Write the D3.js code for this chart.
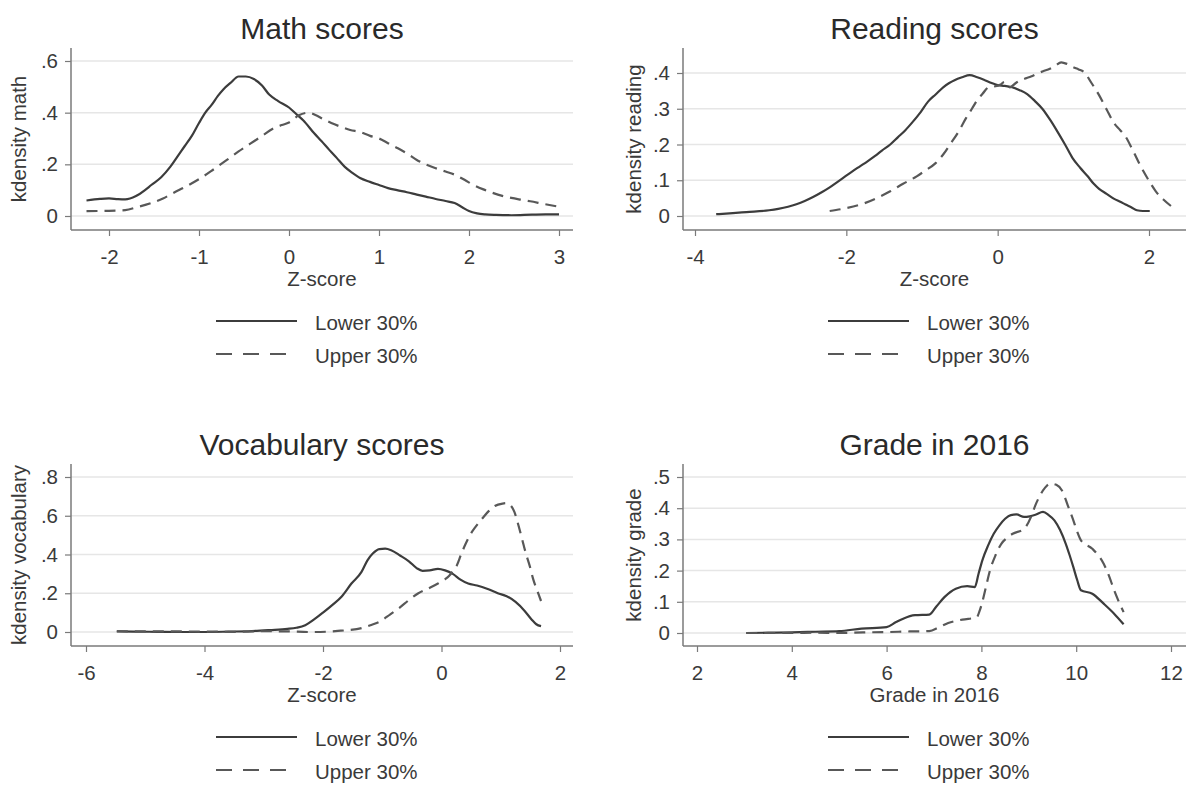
<!DOCTYPE html>
<html>
<head>
<meta charset="utf-8">
<script src="https://cdn.jsdelivr.net/npm/d3@7"></script>
<style>
  html, body { margin: 0; padding: 0; background: #fff; }
  svg { display: block; }
  text { font-family: "Liberation Sans", Arial, sans-serif; }
</style>
</head>
<body>
<svg id="chart" width="1190" height="785"></svg>
<script>
// ---------------- DATA ----------------
const panelTitles = ["Math scores", "Reading scores", "Vocabulary scores", "Grade in 2016"];
const xTitles = ["Z-score", "Z-score", "Z-score", "Grade in 2016"];
const yTitles = ["kdensity math", "kdensity reading", "kdensity vocabulary", "kdensity grade"];
const seriesNames = ["Lower 30%", "Upper 30%"];

const mathXTicks = [-2, -1, 0, 1, 2, 3];
const mathYTicks = [0, 0.2, 0.4, 0.6];
const readXTicks = [-4, -2, 0, 2];
const readYTicks = [0, 0.1, 0.2, 0.3, 0.4];
const vocabXTicks = [-6, -4, -2, 0, 2];
const vocabYTicks = [0, 0.2, 0.4, 0.6, 0.8];
const gradeXTicks = [2, 4, 6, 8, 10, 12];
const gradeYTicks = [0, 0.1, 0.2, 0.3, 0.4, 0.5];

const mathLower = [[-2.25,0.06],[-2.1,0.066],[-2.0,0.068],[-1.9,0.065],[-1.82,0.064],[-1.7,0.077],[-1.6,0.1],[-1.53,0.12],[-1.42,0.15],[-1.32,0.19],[-1.24,0.23],[-1.16,0.27],[-1.08,0.31],[-1.0,0.36],[-0.93,0.4],[-0.86,0.43],[-0.79,0.465],[-0.73,0.49],[-0.65,0.515],[-0.56,0.54],[-0.48,0.54],[-0.39,0.53],[-0.3,0.505],[-0.22,0.47],[-0.12,0.445],[0,0.42],[0.08,0.395],[0.16,0.37],[0.28,0.32],[0.36,0.29],[0.45,0.255],[0.53,0.225],[0.62,0.19],[0.7,0.168],[0.79,0.147],[0.9,0.132],[1.0,0.12],[1.1,0.108],[1.2,0.1],[1.31,0.092],[1.42,0.083],[1.52,0.075],[1.63,0.066],[1.74,0.058],[1.84,0.05],[1.92,0.035],[2.0,0.019],[2.09,0.01],[2.18,0.006],[2.3,0.004],[2.47,0.003],[2.7,0.005],[2.85,0.006],[3.0,0.006]];
const mathUpper = [[-2.25,0.019],[-2.0,0.02],[-1.82,0.023],[-1.68,0.035],[-1.53,0.05],[-1.4,0.068],[-1.28,0.09],[-1.13,0.117],[-0.98,0.147],[-0.84,0.18],[-0.69,0.217],[-0.56,0.25],[-0.43,0.28],[-0.3,0.31],[-0.18,0.338],[-0.08,0.352],[0,0.362],[0.11,0.39],[0.22,0.4],[0.3,0.39],[0.37,0.377],[0.47,0.36],[0.58,0.345],[0.68,0.333],[0.79,0.325],[0.9,0.31],[1.0,0.3],[1.1,0.282],[1.21,0.262],[1.32,0.24],[1.42,0.217],[1.52,0.2],[1.63,0.185],[1.74,0.172],[1.84,0.16],[1.95,0.14],[2.05,0.12],[2.16,0.103],[2.26,0.09],[2.37,0.078],[2.47,0.07],[2.58,0.063],[2.68,0.057],[2.84,0.046],[3.0,0.036]];

const readLower = [[-3.72,0.005],[-3.5,0.008],[-3.32,0.011],[-3.02,0.016],[-2.9,0.02],[-2.77,0.026],[-2.66,0.033],[-2.55,0.042],[-2.44,0.053],[-2.32,0.067],[-2.22,0.08],[-2.12,0.095],[-2.02,0.11],[-1.92,0.125],[-1.82,0.139],[-1.72,0.153],[-1.62,0.168],[-1.53,0.183],[-1.42,0.2],[-1.32,0.22],[-1.22,0.24],[-1.12,0.264],[-1.02,0.29],[-0.92,0.32],[-0.82,0.34],[-0.72,0.36],[-0.64,0.372],[-0.57,0.38],[-0.47,0.388],[-0.37,0.394],[-0.27,0.388],[-0.17,0.38],[-0.08,0.372],[0,0.366],[0.09,0.364],[0.19,0.36],[0.29,0.352],[0.39,0.341],[0.49,0.322],[0.59,0.3],[0.69,0.27],[0.79,0.236],[0.89,0.2],[0.99,0.162],[1.09,0.135],[1.19,0.111],[1.27,0.09],[1.34,0.076],[1.44,0.062],[1.54,0.048],[1.62,0.04],[1.69,0.032],[1.77,0.024],[1.84,0.016],[1.92,0.014],[2.01,0.014]];
const readUpper = [[-2.22,0.014],[-2.0,0.022],[-1.77,0.035],[-1.6,0.05],[-1.42,0.069],[-1.25,0.09],[-1.07,0.111],[-0.95,0.128],[-0.82,0.148],[-0.72,0.172],[-0.62,0.203],[-0.52,0.235],[-0.42,0.273],[-0.34,0.3],[-0.27,0.324],[-0.2,0.342],[-0.12,0.36],[-0.05,0.362],[0.04,0.368],[0.09,0.375],[0.16,0.36],[0.24,0.372],[0.29,0.378],[0.37,0.385],[0.44,0.39],[0.52,0.398],[0.6,0.405],[0.69,0.412],[0.76,0.42],[0.84,0.43],[0.92,0.425],[0.99,0.417],[1.07,0.41],[1.14,0.403],[1.24,0.372],[1.34,0.338],[1.44,0.298],[1.54,0.259],[1.62,0.24],[1.69,0.222],[1.79,0.182],[1.89,0.139],[1.99,0.102],[2.09,0.069],[2.19,0.046],[2.29,0.028]];

const vocabLower = [[-5.48,0.003],[-5.2,0.002],[-4.8,0.001],[-4.4,0.0],[-4.0,0.0],[-3.6,0.002],[-3.2,0.005],[-2.9,0.01],[-2.6,0.016],[-2.45,0.022],[-2.3,0.035],[-2.15,0.065],[-2.0,0.1],[-1.84,0.14],[-1.68,0.185],[-1.52,0.25],[-1.35,0.31],[-1.25,0.37],[-1.16,0.405],[-1.05,0.428],[-0.95,0.43],[-0.85,0.422],[-0.7,0.395],[-0.55,0.365],[-0.42,0.33],[-0.32,0.316],[-0.2,0.318],[-0.06,0.326],[0.06,0.318],[0.19,0.3],[0.32,0.27],[0.45,0.25],[0.6,0.24],[0.78,0.222],[0.95,0.2],[1.1,0.185],[1.25,0.155],[1.4,0.11],[1.52,0.065],[1.6,0.04],[1.68,0.03]];
const vocabUpper = [[-5.48,0.004],[-5.0,0.003],[-4.5,0.003],[-4.0,0.002],[-3.5,0.001],[-3.0,0.004],[-2.6,0.003],[-2.2,0.0],[-1.9,0.002],[-1.65,0.008],[-1.35,0.02],[-1.2,0.035],[-1.03,0.056],[-0.87,0.09],[-0.71,0.125],[-0.55,0.165],[-0.39,0.2],[-0.22,0.225],[-0.06,0.25],[0.05,0.27],[0.13,0.29],[0.2,0.318],[0.26,0.345],[0.33,0.4],[0.4,0.45],[0.5,0.51],[0.58,0.545],[0.7,0.59],[0.8,0.625],[0.9,0.65],[1.03,0.663],[1.1,0.665],[1.16,0.655],[1.23,0.62],[1.29,0.56],[1.36,0.48],[1.42,0.41],[1.49,0.34],[1.55,0.27],[1.62,0.21],[1.68,0.16]];

const gradeLower = [[3.04,0.0],[3.5,0.001],[4.0,0.002],[4.5,0.004],[5.0,0.006],[5.47,0.014],[6.0,0.019],[6.2,0.035],[6.35,0.046],[6.6,0.057],[6.9,0.059],[7.05,0.085],[7.22,0.115],[7.46,0.142],[7.7,0.15],[7.86,0.147],[7.94,0.19],[8.02,0.233],[8.14,0.28],[8.26,0.318],[8.38,0.345],[8.5,0.366],[8.62,0.378],[8.74,0.38],[8.9,0.372],[9.02,0.374],[9.14,0.379],[9.3,0.388],[9.42,0.378],[9.54,0.361],[9.66,0.33],[9.78,0.286],[9.86,0.25],[9.94,0.211],[10.02,0.17],[10.1,0.137],[10.34,0.126],[10.58,0.094],[10.8,0.062],[11.0,0.028]];
const gradeUpper = [[3.04,0.0],[4.0,0.0],[4.5,0.001],[5.0,0.0],[5.5,0.002],[6.0,0.003],[6.5,0.005],[6.9,0.006],[7.1,0.018],[7.3,0.032],[7.6,0.043],[7.9,0.05],[7.96,0.07],[8.02,0.1],[8.1,0.15],[8.18,0.2],[8.3,0.25],[8.42,0.286],[8.54,0.305],[8.66,0.318],[8.9,0.334],[9.06,0.377],[9.14,0.41],[9.22,0.436],[9.34,0.465],[9.45,0.479],[9.58,0.475],[9.7,0.457],[9.82,0.41],[9.94,0.361],[10.02,0.325],[10.1,0.297],[10.34,0.27],[10.58,0.222],[10.7,0.18],[10.8,0.137],[10.9,0.1],[11.0,0.067]];

// ---------------- LAYOUT ----------------
const panels = [
  { lower: mathLower, upper: mathUpper, xTicks: mathXTicks, yTicks: mathYTicks,
    xDom: [-2, 3], xRng: [109, 559], yDom: [0, 0.6], yRng: [216, 61],
    axL: 71, axB: 230, axR: 573, axT: 48, ox: 0, oy: 0 },
  { lower: readLower, upper: readUpper, xTicks: readXTicks, yTicks: readYTicks,
    xDom: [-4, 2], xRng: [695, 1149], yDom: [0, 0.4], yRng: [216, 73],
    axL: 683, axB: 230, axR: 1186, axT: 48, ox: 612, oy: 0 },
  { lower: vocabLower, upper: vocabUpper, xTicks: vocabXTicks, yTicks: vocabYTicks,
    xDom: [-6, 2], xRng: [86, 560], yDom: [0, 0.8], yRng: [632, 477],
    axL: 71, axB: 646, axR: 573, axT: 464, ox: 0, oy: 416 },
  { lower: gradeLower, upper: gradeUpper, xTicks: gradeXTicks, yTicks: gradeYTicks,
    xDom: [2, 12], xRng: [697, 1171], yDom: [0, 0.5], yRng: [633, 477],
    axL: 683, axB: 646, axR: 1186, axT: 464, ox: 612, oy: 416 }
];

const svg = d3.select("#chart");
const fmt = v => v === 0 ? "0" : (Math.abs(v) < 1 ? String(v).replace(/^0\./, ".") : String(v));
const textCol = "#3a3a3a";
const axisCol = "#7a7a7a";
const fs = "20.5px";

panels.forEach((p, i) => {
  const x = d3.scaleLinear().domain(p.xDom).range(p.xRng);
  const y = d3.scaleLinear().domain(p.yDom).range(p.yRng);
  const g = svg.append("g");

  // gridlines
  g.selectAll("line.grid").data(p.yTicks).join("line")
    .attr("x1", p.axL).attr("x2", p.axR)
    .attr("y1", d => y(d)).attr("y2", d => y(d))
    .attr("stroke", "#e6e6e6").attr("stroke-width", 1.5);

  // y axis
  const yAx = g.append("g").attr("transform", `translate(${p.axL},0)`)
    .call(d3.axisLeft(y).tickValues(p.yTicks).tickFormat(fmt).tickSizeOuter(0).tickSize(6).tickPadding(7));
  yAx.select(".domain").remove();
  yAx.append("line").attr("x1", 0).attr("x2", 0).attr("y1", p.axT).attr("y2", p.axB)
    .attr("stroke", axisCol).attr("stroke-width", 1.5);
  yAx.selectAll(".tick line").attr("stroke", axisCol).attr("stroke-width", 1.2);
  yAx.selectAll(".tick text").attr("fill", textCol).style("font-size", fs)
    .style("font-family", "'Liberation Sans', Arial, sans-serif");

  // x axis
  const xAx = g.append("g").attr("transform", `translate(0,${p.axB})`)
    .call(d3.axisBottom(x).tickValues(p.xTicks).tickFormat(d => String(d)).tickSizeOuter(0).tickSize(6).tickPadding(13));
  xAx.select(".domain").remove();
  xAx.append("line").attr("x1", p.axL).attr("x2", p.axR).attr("y1", 0).attr("y2", 0)
    .attr("stroke", axisCol).attr("stroke-width", 1.5);
  xAx.selectAll(".tick line").attr("stroke", axisCol).attr("stroke-width", 1.2);
  xAx.selectAll(".tick text").attr("fill", textCol).style("font-size", fs)
    .style("font-family", "'Liberation Sans', Arial, sans-serif");

  // lines
  const line = d3.line().x(d => x(d[0])).y(d => y(d[1])).curve(d3.curveMonotoneX);
  g.append("path").datum(p.lower).attr("d", line)
    .attr("fill", "none").attr("stroke", "#3c3c3c").attr("stroke-width", 2.2)
    .attr("stroke-linejoin", "round");
  g.append("path").datum(p.upper).attr("d", line)
    .attr("fill", "none").attr("stroke", "#585858").attr("stroke-width", 2.2)
    .attr("stroke-dasharray", "11,7");

  // titles
  const cx = (p.axL + p.axR) / 2;
  g.append("text").attr("x", cx).attr("y", 28 + p.oy).attr("text-anchor", "middle")
    .attr("dominant-baseline", "central").attr("fill", "#2a2a2a").style("font-size", "30px")
    .text(panelTitles[i]);
  g.append("text").attr("x", cx).attr("y", 278 + p.oy)
    .attr("text-anchor", "middle").attr("dominant-baseline", "central")
    .attr("fill", textCol).style("font-size", fs).text(xTitles[i]);
  const ytx = 18 + p.ox + (i % 2 === 1 ? 3 : 0);
  const yty = (p.axT + p.axB) / 2;
  g.append("text").attr("transform", `translate(${ytx},${yty}) rotate(-90)`)
    .attr("text-anchor", "middle").attr("dominant-baseline", "central")
    .attr("fill", textCol).style("font-size", fs).text(yTitles[i]);

  // legend
  const lx = 216 + p.ox, ly = 321 + p.oy;
  g.append("line").attr("x1", lx).attr("x2", lx + 81).attr("y1", ly).attr("y2", ly)
    .attr("stroke", "#3c3c3c").attr("stroke-width", 2.2);
  g.append("line").attr("x1", lx).attr("x2", lx + 72).attr("y1", ly + 33).attr("y2", ly + 33)
    .attr("stroke", "#585858").attr("stroke-width", 2.2).attr("stroke-dasharray", "16,11");
  g.append("text").attr("x", lx + 99).attr("y", ly + 1).attr("dominant-baseline", "central")
    .attr("fill", textCol).style("font-size", fs).text(seriesNames[0]);
  g.append("text").attr("x", lx + 99).attr("y", ly + 34).attr("dominant-baseline", "central")
    .attr("fill", textCol).style("font-size", fs).text(seriesNames[1]);
});
</script>
</body>
</html>
